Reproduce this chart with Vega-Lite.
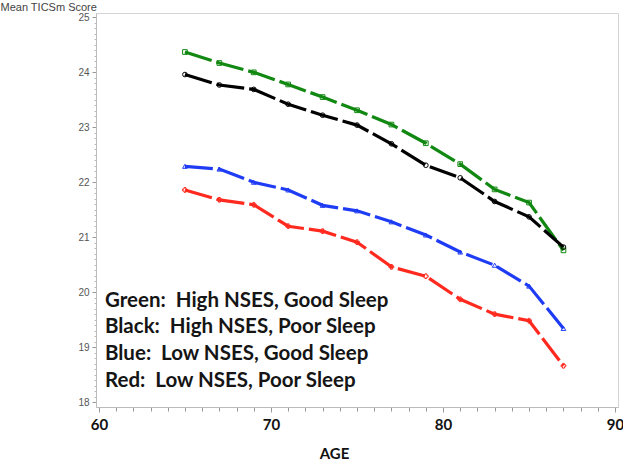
{
  "$schema": "https://vega.github.io/schema/vega-lite/v6.json",
  "width": 522,
  "height": 394,
  "autosize": {"type": "none"},
  "padding": {"left": 96, "top": 13, "right": 5, "bottom": 54},
  "background": "white",
  "config": {
    "view": {"stroke": "#d4d4d4", "strokeWidth": 1},
    "axis": {"grid": false}
  },
  "datasets": {
    "scores": [
      {"age": 65, "group": "Green", "score": 24.37},
      {"age": 67, "group": "Green", "score": 24.17},
      {"age": 69, "group": "Green", "score": 24.0},
      {"age": 71, "group": "Green", "score": 23.78},
      {"age": 73, "group": "Green", "score": 23.55},
      {"age": 75, "group": "Green", "score": 23.31},
      {"age": 77, "group": "Green", "score": 23.05},
      {"age": 79, "group": "Green", "score": 22.71},
      {"age": 81, "group": "Green", "score": 22.33},
      {"age": 83, "group": "Green", "score": 21.87},
      {"age": 85, "group": "Green", "score": 21.63},
      {"age": 87, "group": "Green", "score": 20.76},
      {"age": 65, "group": "Black", "score": 23.96},
      {"age": 67, "group": "Black", "score": 23.77},
      {"age": 69, "group": "Black", "score": 23.69},
      {"age": 71, "group": "Black", "score": 23.42},
      {"age": 73, "group": "Black", "score": 23.22},
      {"age": 75, "group": "Black", "score": 23.04},
      {"age": 77, "group": "Black", "score": 22.7},
      {"age": 79, "group": "Black", "score": 22.31},
      {"age": 81, "group": "Black", "score": 22.08},
      {"age": 83, "group": "Black", "score": 21.65},
      {"age": 85, "group": "Black", "score": 21.37},
      {"age": 87, "group": "Black", "score": 20.82},
      {"age": 65, "group": "Blue", "score": 22.29},
      {"age": 67, "group": "Blue", "score": 22.24},
      {"age": 69, "group": "Blue", "score": 22.0},
      {"age": 71, "group": "Blue", "score": 21.86},
      {"age": 73, "group": "Blue", "score": 21.58},
      {"age": 75, "group": "Blue", "score": 21.48},
      {"age": 77, "group": "Blue", "score": 21.28},
      {"age": 79, "group": "Blue", "score": 21.04},
      {"age": 81, "group": "Blue", "score": 20.73},
      {"age": 83, "group": "Blue", "score": 20.49},
      {"age": 85, "group": "Blue", "score": 20.11},
      {"age": 87, "group": "Blue", "score": 19.34},
      {"age": 65, "group": "Red", "score": 21.86},
      {"age": 67, "group": "Red", "score": 21.68},
      {"age": 69, "group": "Red", "score": 21.59},
      {"age": 71, "group": "Red", "score": 21.2},
      {"age": 73, "group": "Red", "score": 21.11},
      {"age": 75, "group": "Red", "score": 20.91},
      {"age": 77, "group": "Red", "score": 20.46},
      {"age": 79, "group": "Red", "score": 20.29},
      {"age": 81, "group": "Red", "score": 19.87},
      {"age": 83, "group": "Red", "score": 19.6},
      {"age": 85, "group": "Red", "score": 19.48},
      {"age": 87, "group": "Red", "score": 18.66}
    ],
    "notes": [
      {"age": 60.35, "score": 19.73, "label": "Green:\u00a0 High NSES, Good Sleep"},
      {"age": 60.35, "score": 19.25, "label": "Black:\u00a0 High NSES, Poor Sleep"},
      {"age": 60.35, "score": 18.76, "label": "Blue:\u00a0 Low NSES, Good Sleep"},
      {"age": 60.35, "score": 18.27, "label": "Red:\u00a0 Low NSES, Poor Sleep"}
    ]
  },
  "layer": [
    {
      "data": {"name": "scores"},
      "mark": {"type": "line", "strokeWidth": 3.2, "strokeDash": [28, 5]},
      "encoding": {
        "x": {
          "field": "age", "type": "quantitative",
          "scale": {"domain": [59.83, 90.17], "nice": false, "zero": false},
          "axis": {
            "orient": "bottom",
            "values": [60, 61, 62, 63, 64, 65, 66, 67, 68, 69, 70, 71, 72, 73, 74, 75, 76, 77, 78, 79, 80, 81, 82, 83, 84, 85, 86, 87, 88, 89, 90],
            "tickCount": 200,
            "format": "d",
            "labelExpr": "datum.value % 10 === 0 ? datum.label : ''",
            "labelOverlap": false,
            "title": "AGE", "titleFont": "Lato", "titleFontSize": 15, "titleFontWeight": "bold",
            "titleColor": "#111", "titleX": 238, "titleY": 51, "titleBaseline": "alphabetic",
            "labelFont": "Lato", "labelFontSize": 15, "labelFontWeight": "bold", "labelColor": "#111",
            "labelPadding": 5,
            "tickSize": {"condition": {"test": "datum.value % 10 === 0", "value": 5}, "value": 4},
            "tickColor": "#999", "domainColor": "#bbb"
          }
        },
        "y": {
          "field": "score", "type": "quantitative",
          "scale": {"domain": [17.91, 25.08], "nice": false, "zero": false},
          "axis": {
            "orient": "left",
            "values": [18.0, 18.1, 18.2, 18.3, 18.4, 18.5, 18.6, 18.7, 18.8, 18.9, 19.0, 19.1, 19.2, 19.3, 19.4, 19.5, 19.6, 19.7, 19.8, 19.9, 20.0, 20.1, 20.2, 20.3, 20.4, 20.5, 20.6, 20.7, 20.8, 20.9, 21.0, 21.1, 21.2, 21.3, 21.4, 21.5, 21.6, 21.7, 21.8, 21.9, 22.0, 22.1, 22.2, 22.3, 22.4, 22.5, 22.6, 22.7, 22.8, 22.9, 23.0, 23.1, 23.2, 23.3, 23.4, 23.5, 23.6, 23.7, 23.8, 23.9, 24.0, 24.1, 24.2, 24.3, 24.4, 24.5, 24.6, 24.7, 24.8, 24.9, 25.0],
            "tickCount": 200,
            "format": ".0f",
            "labelExpr": "abs(datum.value - round(datum.value)) < 0.01 ? datum.label : ''",
            "labelOverlap": false,
            "title": "Mean TICSm Score", "titleAngle": 0, "titleAlign": "left",
            "titleBaseline": "alphabetic", "titleX": -96, "titleY": -3,
            "titleFont": "Liberation Sans", "titleFontSize": 11, "titleFontWeight": "normal", "titleColor": "#444",
            "labelFont": "Liberation Sans", "labelFontSize": 10, "labelColor": "#555",
            "labelPadding": 3,
            "tickSize": {"condition": {"test": "abs(datum.value - round(datum.value)) < 0.01", "value": 4}, "value": 2},
            "tickColor": {"condition": {"test": "abs(datum.value - round(datum.value)) < 0.01", "value": "#999"}, "value": "#bbb"},
            "domainColor": "#bbb"
          }
        },
        "color": {
          "field": "group", "type": "nominal",
          "scale": {"domain": ["Green", "Black", "Blue", "Red"], "range": ["#118811", "#000000", "#1f3cf5", "#ff2a1f"]},
          "legend": null
        },
        "detail": {"field": "group"}
      }
    },
    {
      "data": {"name": "scores"},
      "mark": {"type": "point", "filled": false, "strokeWidth": 1, "size": 22, "opacity": 1},
      "encoding": {
        "x": {"field": "age", "type": "quantitative"},
        "y": {"field": "score", "type": "quantitative"},
        "color": {"field": "group", "type": "nominal", "legend": null},
        "shape": {
          "field": "group", "type": "nominal",
          "scale": {"domain": ["Green", "Black", "Blue", "Red"], "range": ["square", "circle", "triangle-up", "cross"]},
          "legend": null
        }
      }
    },
    {
      "data": {"name": "notes"},
      "mark": {"type": "text", "align": "left", "baseline": "alphabetic", "font": "Lato", "fontSize": 20.5, "fontWeight": "bold", "color": "#151515"},
      "encoding": {
        "x": {"field": "age", "type": "quantitative"},
        "y": {"field": "score", "type": "quantitative"},
        "text": {"field": "label"}
      }
    }
  ]
}
